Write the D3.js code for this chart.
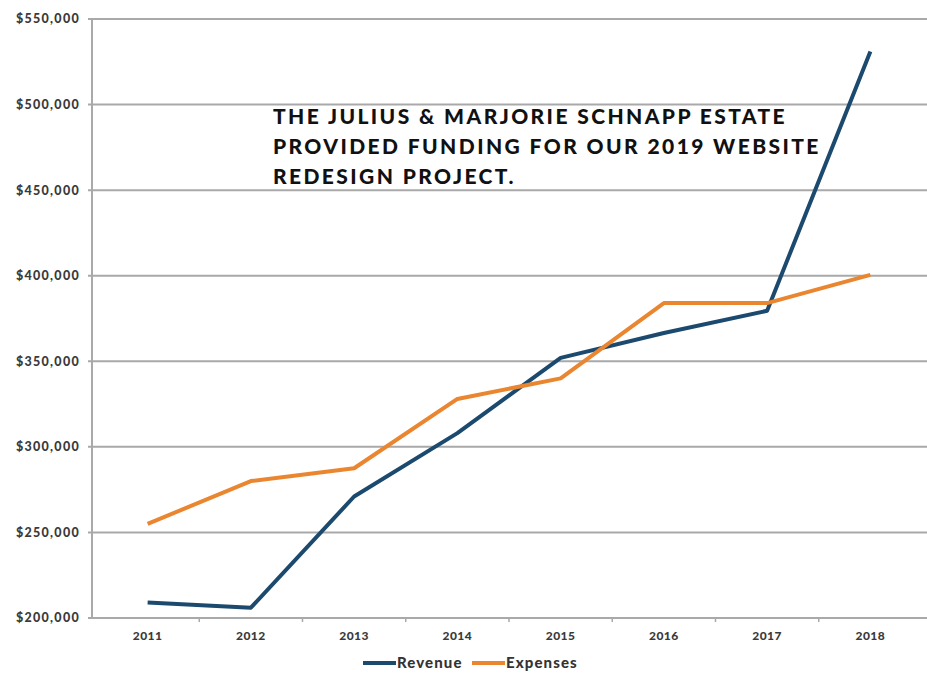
<!DOCTYPE html>
<html>
<head>
<meta charset="utf-8">
<script src="https://cdn.jsdelivr.net/npm/d3@7"></script>
<style>
  body { margin: 0; background: #fff; }
  svg { display: block; }
</style>
</head>
<body>
<svg id="chart" width="927" height="674"></svg>
<script>
var years = ["2011", "2012", "2013", "2014", "2015", "2016", "2017", "2018"];
var revenue = [209000, 206000, 271000, 308000, 352000, 366500, 379500, 531000];
var expenses = [255000, 280000, 287500, 328000, 340000, 384000, 384000, 400500];
var yTicks = [200000, 250000, 300000, 350000, 400000, 450000, 500000, 550000];
var seriesNames = ["Revenue", "Expenses"];
var colours = ["#1c4a6e", "#e9862f"];
var note = ["THE JULIUS & MARJORIE SCHNAPP ESTATE",
            "PROVIDED FUNDING FOR OUR 2019 WEBSITE",
            "REDESIGN PROJECT."];

var svg = d3.select("#chart"),
    margin = {top: 19, right: 0, bottom: 56, left: 92},
    width = +svg.attr("width") - margin.left - margin.right,
    height = +svg.attr("height") - margin.top - margin.bottom;

var chart = svg.append("g").attr("transform", "translate(" + margin.left + "," + margin.top + ")");

var x = d3.scaleBand()
    .domain(years)
    .range([4, 830]);

var y = d3.scaleLinear()
    .domain([200000, 550000])
    .range([height, 0]);

// gridlines
chart.append("g")
    .selectAll("line")
    .data(yTicks)
    .enter().append("line")
    .attr("x1", -4)
    .attr("x2", width)
    .attr("y1", function(d) { return y(d); })
    .attr("y2", function(d) { return y(d); })
    .attr("stroke", "#a9a9a9")
    .attr("stroke-width", 2);

// y axis line
chart.append("line")
    .attr("x1", 0).attr("x2", 0)
    .attr("y1", 0).attr("y2", height)
    .attr("stroke", "#a9a9a9")
    .attr("stroke-width", 2);

// y labels
chart.append("g")
    .selectAll("text")
    .data(yTicks)
    .enter().append("text")
    .attr("x", -12)
    .attr("y", function(d) { return y(d); })
    .attr("dy", "0.35em")
    .attr("text-anchor", "end")
    .attr("font-family", "Lato, sans-serif")
    .attr("font-weight", "900")
    .attr("font-size", 12.5)
    .attr("letter-spacing", 1.3)
    .attr("fill", "#3a3a3a")
    .text(function(d) { return "$" + d3.format(",")(d); });

// x ticks at band edges
chart.append("g")
    .selectAll("line")
    .data(years.slice(1))
    .enter().append("line")
    .attr("x1", function(d) { return x(d); })
    .attr("x2", function(d) { return x(d); })
    .attr("y1", height)
    .attr("y2", height + 4)
    .attr("stroke", "#a9a9a9")
    .attr("stroke-width", 1.5);

chart.append("g")
    .selectAll("text")
    .data(years)
    .enter().append("text")
    .attr("x", function(d) { return x(d) + x.bandwidth() / 2; })
    .attr("y", height + 22)
    .attr("text-anchor", "middle")
    .attr("font-family", "Lato, sans-serif")
    .attr("font-weight", "900")
    .attr("font-size", 12)
    .attr("letter-spacing", 0.5)
    .attr("fill", "#3a3a3a")
    .text(function(d) { return d; });

// lines
var line = d3.line()
    .x(function(d, i) { return x(years[i]) + x.bandwidth() / 2; })
    .y(function(d) { return y(d); });

[revenue, expenses].forEach(function(s, i) {
    chart.append("path")
        .datum(s)
        .attr("fill", "none")
        .attr("stroke", colours[i])
        .attr("stroke-width", 4)
        .attr("stroke-linejoin", "round")
        .attr("d", line);
});

// note
svg.append("g")
    .selectAll("text")
    .data(note)
    .enter().append("text")
    .attr("x", 273)
    .attr("y", function(d, i) { return 124 + i * 30; })
    .attr("font-family", "Lato, sans-serif")
    .attr("font-weight", "900")
    .attr("font-size", 21)
    .attr("letter-spacing", 2.4)
    .attr("fill", "#111")
    .text(function(d) { return d; });

// legend
var legend = svg.append("g")
    .selectAll("g")
    .data(seriesNames)
    .enter().append("g")
    .attr("transform", function(d, i) { return "translate(" + (363 + i * 109) + ",663)"; });

legend.append("line")
    .attr("x1", 0).attr("x2", 33)
    .attr("stroke", function(d, i) { return colours[i]; })
    .attr("stroke-width", 4);

legend.append("text")
    .attr("x", 34)
    .attr("dy", "0.35em")
    .attr("font-family", "Lato, sans-serif")
    .attr("font-weight", "900")
    .attr("font-size", 15)
    .attr("letter-spacing", 1.1)
    .attr("fill", "#333")
    .text(function(d) { return d; });
</script>
</body>
</html>
